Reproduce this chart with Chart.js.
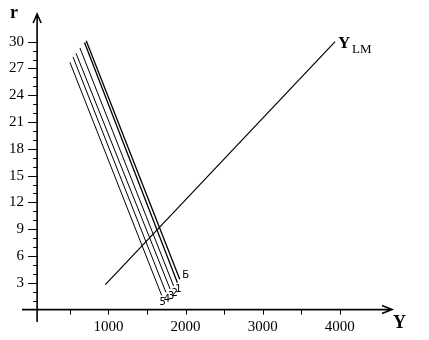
<!DOCTYPE html>
<html lang="ru">
<head>
    <meta charset="UTF-8">
    <title>IS-LM</title>
    <script src="https://cdn.jsdelivr.net/npm/chart.js"></script>
    <style>
        body { margin: 0; background: #fff; }
        #wrap { width: 429px; height: 340px; }
    </style>
</head>
<body>
    <div id="wrap"><canvas id="chart" width="429" height="340"></canvas></div>
    <script>
        // IS curves (5..1, Б): top and bottom ends
        const isNames   = ['5', '4', '3', '2', '1', 'Б'];
        const isTopY    = [500, 540, 580, 630, 690, 712];
        const isTopR    = [27.7, 28.3, 28.7, 29.3, 29.9, 30.1];
        const isBottomY = [1690, 1745, 1800, 1845, 1895, 1925];
        const isBottomR = [1.6, 1.95, 2.3, 2.65, 3.0, 3.4];

        // LM line
        const lmY = [960, 3940];
        const lmR = [2.8, 30];

        // axis ticks
        const rTicks = [3, 6, 9, 12, 15, 18, 21, 24, 27, 30];
        const yTicks = [1000, 2000, 3000, 4000];
        const yMinorStep = 500;
        const axisAtY = 75; // where the r axis crosses

        const datasets = isNames.map((name, i) => ({
            label: name,
            data: [{ x: isTopY[i], y: isTopR[i] }, { x: isBottomY[i], y: isBottomR[i] }],
            borderColor: '#000',
            borderWidth: i >= 4 ? 1.3 : 1,
            showLine: true,
            pointRadius: 0
        }));
        datasets.push({
            label: 'LM',
            data: lmY.map((v, i) => ({ x: v, y: lmR[i] })),
            borderColor: '#000',
            borderWidth: 1.2,
            showLine: true,
            pointRadius: 0
        });

        const axesPlugin = {
            id: 'axes',
            afterDraw(chart) {
                const ctx = chart.ctx;
                const xs = chart.scales.x, ys = chart.scales.y;
                const area = chart.chartArea;
                const ax = xs.getPixelForValue(axisAtY);
                const ay = ys.getPixelForValue(0);
                ctx.save();
                ctx.strokeStyle = '#000';
                ctx.fillStyle = '#000';
                ctx.lineWidth = 1.6;

                // r axis with arrow
                ctx.beginPath();
                ctx.moveTo(ax, area.bottom);
                ctx.lineTo(ax, area.top);
                ctx.moveTo(ax - 4, area.top + 9);
                ctx.lineTo(ax, area.top);
                ctx.lineTo(ax + 4, area.top + 9);
                // Y axis with arrow
                ctx.moveTo(area.left, ay);
                ctx.lineTo(area.right, ay);
                ctx.moveTo(area.right - 10, ay - 4);
                ctx.lineTo(area.right, ay);
                ctx.lineTo(area.right - 10, ay + 4);
                ctx.stroke();

                // r ticks: minor every unit, major at labels
                ctx.lineWidth = 1;
                ctx.beginPath();
                for (let r = 1; r <= 30; r++) {
                    const py = Math.round(ys.getPixelForValue(r)) + 0.5;
                    const len = rTicks.includes(r) ? 9 : 4;
                    ctx.moveTo(ax - len, py);
                    ctx.lineTo(ax, py);
                }
                // Y ticks
                for (let v = yMinorStep; v <= 4000; v += yMinorStep) {
                    const px = Math.round(xs.getPixelForValue(v)) + 0.5;
                    ctx.moveTo(px, ay);
                    ctx.lineTo(px, ay + 5);
                }
                ctx.stroke();

                ctx.font = '15px "Liberation Serif", serif';
                ctx.textAlign = 'right';
                ctx.textBaseline = 'middle';
                rTicks.forEach(r => ctx.fillText(String(r), ax - 13, ys.getPixelForValue(r)));
                ctx.textAlign = 'center';
                yTicks.forEach(v => ctx.fillText(String(v), xs.getPixelForValue(v), ay + 17));

                // axis titles
                ctx.font = 'bold 18px "Liberation Serif", serif';
                ctx.textAlign = 'left';
                ctx.fillText('r', 10, 13);
                ctx.fillText('Y', 393, 323);

                // LM label
                const ex = xs.getPixelForValue(lmY[1]);
                const ey = ys.getPixelForValue(lmR[1]);
                ctx.font = 'bold 17px "Liberation Serif", serif';
                ctx.fillText('Y', ex + 3, ey + 2);
                ctx.font = '13px "Liberation Serif", serif';
                ctx.fillText('LM', ex + 17, ey + 8);

                // IS curve labels
                ctx.font = '10px "DejaVu Sans", sans-serif';
                ctx.textAlign = 'center';
                isNames.forEach((name, i) => {
                    const px = xs.getPixelForValue(isBottomY[i]);
                    const py = ys.getPixelForValue(isBottomR[i]);
                    if (name === 'Б') ctx.fillText(name, px + 6, py - 4);
                    else ctx.fillText(name, px + 1, py + 7);
                });
                ctx.restore();
            }
        };

        new Chart(document.getElementById('chart'), {
            type: 'scatter',
            data: { datasets: datasets },
            options: {
                responsive: false,
                animation: false,
                layout: { padding: { left: 22, right: 37, top: 14, bottom: 18 } },
                plugins: { legend: { display: false }, tooltip: { enabled: false } },
                scales: {
                    x: { type: 'linear', min: -121, max: 4678, display: false },
                    y: { type: 'linear', min: -1.39, max: 33.1, display: false }
                }
            },
            plugins: [axesPlugin]
        });
    </script>
</body>
</html>
